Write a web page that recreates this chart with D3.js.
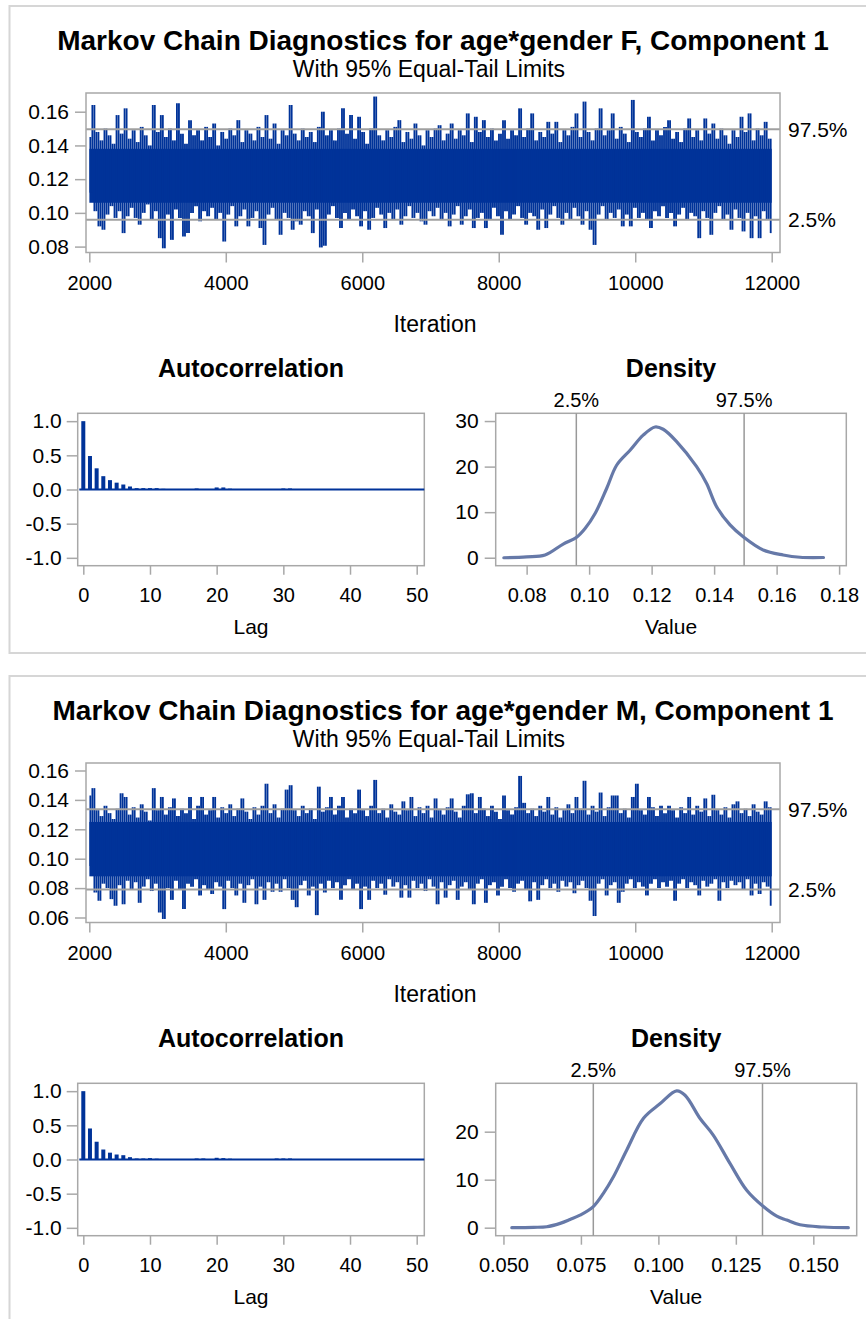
<!DOCTYPE html>
<html>
<head>
<meta charset="utf-8">
<script src="https://cdn.jsdelivr.net/npm/d3@7"></script>
<style>
  body { margin: 0; background: #fff; }
  svg text { font-family: "Liberation Sans", Arial, sans-serif; fill: #000; }
</style>
</head>
<body>
<svg id="chart" width="866" height="1319"></svg>
<script>
// ---- data ----
var titles = ["Markov Chain Diagnostics for age*gender F, Component 1",
              "Markov Chain Diagnostics for age*gender M, Component 1"];
var subtitle = "With 95% Equal-Tail Limits";

var iterTicks = [2000, 4000, 6000, 8000, 10000, 12000];
var lagTicks = [0, 10, 20, 30, 40, 50];
var acfTicks = [1.0, 0.5, 0.0, -0.5, -1.0];
var traceFTicks = [0.08, 0.10, 0.12, 0.14, 0.16];
var traceMTicks = [0.06, 0.08, 0.10, 0.12, 0.14, 0.16];
var densFTicksX = [0.08, 0.10, 0.12, 0.14, 0.16, 0.18];
var densMTicksX = [0.050, 0.075, 0.100, 0.125, 0.150];
var densFTicksY = [0, 10, 20, 30];
var densMTicksY = [0, 10, 20];

// 2.5% and 97.5% limits
var limitsF = [0.0959, 0.1496];
var limitsM = [0.0790, 0.1336];
var limitLabels = ["2.5%", "97.5%"];

// solid middle of each trace (where every pixel column is filled)
var coreF = [0.106, 0.138];
var coreM = [0.088, 0.125];

// trace: upper and lower swings, read left to right (iterations 2001..12000)
var traceFHi = [0.145,0.164,0.148,0.143,0.150,0.146,0.141,0.158,0.147,0.162,
  0.144,0.149,0.142,0.151,0.146,0.140,0.164,0.148,0.158,0.145,
  0.150,0.143,0.165,0.147,0.141,0.155,0.146,0.149,0.143,0.151,
  0.145,0.153,0.140,0.148,0.144,0.150,0.146,0.155,0.142,0.149,
  0.147,0.143,0.151,0.145,0.158,0.144,0.153,0.141,0.149,0.146,
  0.164,0.147,0.143,0.150,0.145,0.148,0.142,0.151,0.160,0.146,
  0.149,0.143,0.150,0.162,0.147,0.158,0.144,0.157,0.148,0.141,
  0.150,0.169,0.146,0.143,0.149,0.145,0.151,0.155,0.142,0.148,
  0.144,0.153,0.146,0.140,0.149,0.145,0.150,0.152,0.143,0.147,
  0.153,0.144,0.149,0.146,0.159,0.142,0.157,0.148,0.155,0.145,
  0.150,0.143,0.147,0.155,0.144,0.149,0.146,0.162,0.145,0.150,
  0.159,0.143,0.148,0.145,0.154,0.147,0.154,0.142,0.149,0.146,
  0.151,0.159,0.145,0.166,0.148,0.143,0.150,0.162,0.146,0.149,
  0.159,0.144,0.151,0.147,0.142,0.167,0.148,0.145,0.150,0.157,
  0.143,0.149,0.146,0.151,0.155,0.144,0.148,0.142,0.150,0.156,
  0.145,0.149,0.143,0.156,0.147,0.153,0.144,0.150,0.146,0.141,
  0.149,0.145,0.157,0.148,0.159,0.143,0.150,0.146,0.154,0.144];
var traceFLo = [0.112,0.101,0.092,0.090,0.099,0.104,0.097,0.101,0.088,0.098,
  0.103,0.097,0.093,0.100,0.105,0.096,0.101,0.085,0.079,0.099,
  0.084,0.102,0.097,0.086,0.088,0.100,0.104,0.095,0.101,0.098,
  0.103,0.096,0.100,0.083,0.099,0.104,0.092,0.098,0.102,0.092,
  0.097,0.101,0.091,0.081,0.099,0.103,0.096,0.087,0.100,0.097,
  0.090,0.095,0.093,0.101,0.098,0.088,0.102,0.0795,0.0805,0.099,
  0.104,0.097,0.091,0.100,0.096,0.102,0.098,0.092,0.101,0.090,
  0.097,0.103,0.099,0.091,0.100,0.096,0.102,0.093,0.098,0.104,
  0.097,0.100,0.095,0.093,0.101,0.098,0.103,0.096,0.100,0.092,
  0.099,0.104,0.093,0.098,0.102,0.091,0.097,0.100,0.091,0.096,
  0.103,0.098,0.087,0.101,0.096,0.099,0.104,0.097,0.093,0.100,
  0.098,0.090,0.102,0.091,0.099,0.104,0.097,0.093,0.100,0.096,
  0.103,0.098,0.093,0.101,0.090,0.081,0.099,0.104,0.096,0.100,
  0.097,0.102,0.092,0.099,0.092,0.103,0.097,0.100,0.096,0.091,
  0.101,0.098,0.104,0.097,0.100,0.092,0.099,0.103,0.096,0.100,
  0.098,0.085,0.101,0.097,0.087,0.100,0.104,0.096,0.099,0.090,
  0.102,0.097,0.089,0.100,0.085,0.098,0.085,0.101,0.096,0.088];

var traceMHi = [0.143,0.148,0.133,0.129,0.136,0.131,0.127,0.134,0.1445,0.142,
  0.130,0.135,0.128,0.137,0.132,0.126,0.148,0.133,0.142,0.130,
  0.135,0.141,0.129,0.134,0.131,0.142,0.127,0.136,0.142,0.130,
  0.133,0.142,0.128,0.135,0.131,0.137,0.129,0.134,0.141,0.132,
  0.127,0.135,0.130,0.136,0.151,0.131,0.137,0.128,0.134,0.147,
  0.150,0.133,0.129,0.136,0.131,0.134,0.127,0.149,0.132,0.135,
  0.142,0.130,0.136,0.142,0.128,0.134,0.131,0.147,0.133,0.129,
  0.136,0.1536,0.131,0.134,0.128,0.137,0.132,0.130,0.139,0.133,
  0.142,0.129,0.135,0.131,0.136,0.128,0.141,0.133,0.130,0.135,
  0.141,0.132,0.128,0.136,0.1438,0.1445,0.131,0.142,0.134,0.129,
  0.136,0.132,0.127,0.143,0.133,0.130,0.135,0.1563,0.138,0.131,
  0.134,0.129,0.136,0.132,0.142,0.130,0.135,0.128,0.133,0.137,
  0.131,0.142,0.134,0.153,0.130,0.136,0.132,0.145,0.129,0.135,
  0.143,0.143,0.131,0.134,0.128,0.142,0.151,0.133,0.130,0.142,
  0.135,0.129,0.136,0.131,0.136,0.133,0.128,0.135,0.131,0.142,
  0.130,0.136,0.132,0.141,0.129,0.1435,0.133,0.130,0.135,0.128,
  0.137,0.139,0.131,0.134,0.129,0.137,0.132,0.130,0.139,0.135];
var traceMLo = [0.095,0.077,0.0714,0.083,0.080,0.0725,0.068,0.082,0.069,0.085,
  0.079,0.084,0.070,0.081,0.086,0.078,0.083,0.0634,0.059,0.080,
  0.072,0.085,0.079,0.0657,0.083,0.081,0.086,0.075,0.082,0.079,
  0.076,0.084,0.081,0.0657,0.085,0.080,0.075,0.083,0.070,0.082,
  0.086,0.069,0.081,0.072,0.084,0.0775,0.083,0.0775,0.086,0.080,
  0.072,0.067,0.082,0.085,0.075,0.081,0.0616,0.083,0.077,0.085,
  0.080,0.084,0.072,0.082,0.086,0.079,0.083,0.0657,0.081,0.072,
  0.085,0.080,0.083,0.0755,0.086,0.081,0.084,0.0735,0.082,0.0735,
  0.085,0.080,0.083,0.078,0.086,0.081,0.069,0.084,0.0735,0.082,
  0.085,0.072,0.081,0.084,0.079,0.069,0.083,0.086,0.070,0.082,
  0.084,0.075,0.081,0.086,0.080,0.0775,0.083,0.085,0.079,0.071,
  0.084,0.072,0.082,0.086,0.080,0.083,0.0775,0.085,0.081,0.084,
  0.0765,0.082,0.085,0.080,0.0714,0.061,0.083,0.086,0.075,0.082,
  0.084,0.070,0.0775,0.083,0.086,0.080,0.084,0.081,0.075,0.083,
  0.086,0.080,0.084,0.081,0.085,0.0714,0.083,0.086,0.080,0.084,
  0.082,0.075,0.085,0.081,0.083,0.086,0.0714,0.084,0.080,0.085,
  0.082,0.084,0.079,0.086,0.075,0.083,0.076,0.084,0.081,0.068];

// autocorrelation, lags 0..50
var acfF = [1.0,0.49,0.31,0.195,0.137,0.10,0.073,0.044,0.02,0.02,
  0.02,0.02,0.01,0.005,0.003,0.002,0.004,0.015,0.005,0.003,
  0.03,0.03,0.012,0.004,0.002,0.001,0.002,0.003,0.002,0.004,
  0.015,0.015,0.003,0.002,0.001,0,0.001,0.002,0.001,0,
  0.001,0,0.001,0.002,0.001,0,0.001,0,0.001,0,0.001];
var acfM = [1.0,0.454,0.26,0.146,0.10,0.073,0.063,0.034,0.015,0.015,
  0.02,0.012,0.004,0.002,0.002,0.003,0.004,0.015,0.015,0.004,
  0.025,0.02,0.012,0.003,0.002,0.001,0.002,0.003,0.004,0.015,
  0.015,0.015,0.003,0.002,0.001,0,0.001,0.002,0.001,0,
  0.001,0,0.001,0.002,0.001,0,0.001,0,0.001,0,0.001];

// kernel density curves
var densFx = [0.0727,0.0800,0.0859,0.0917,0.0960,0.0987,0.1019,0.1056,0.1088,0.1131,
  0.1173,0.1211,0.1237,0.1280,0.1344,0.1376,0.1408,0.1451,0.1493,0.1557,0.1621,0.1675,0.1750];
var densFy = [0.0,0.2,0.6,3.0,4.5,6.4,9.7,15.2,20.3,23.6,
  26.9,28.7,28.2,25.5,20.0,16.3,11.2,7.2,4.6,1.7,0.6,0.1,0.05];
var densMx = [0.0527,0.0597,0.0640,0.0683,0.0715,0.0747,0.0790,0.0823,0.0855,0.0898,
  0.0952,0.1005,0.1059,0.1086,0.1134,0.1177,0.1231,0.1285,0.1339,0.1382,0.1414,0.1457,0.1532,0.1613];
var densMy = [0.0,0.07,0.2,0.9,1.7,2.6,4.4,7.2,10.6,16.2,
  22.8,25.8,28.5,27.6,22.8,19.3,13.4,7.8,4.4,2.4,1.6,0.6,0.14,0.0];

// ---- drawing ----
var BLUE = "#003399", FRAME = "#a8a8a8", REF = "#a0a0a0", CURVE = "#6679a8";
var svg = d3.select("#chart");

function styleAxis(ax, size) {
  ax.select(".domain").remove();
  ax.selectAll(".tick line").attr("stroke", FRAME).attr("stroke-width", 1.5);
  ax.selectAll(".tick text").style("font-size", size + "px").attr("fill", "#000");
}

function frame(g, x0, y0, x1, y1) {
  g.append("rect").attr("x", x0).attr("y", y0).attr("width", x1 - x0).attr("height", y1 - y0)
    .attr("fill", "none").attr("stroke", FRAME).attr("stroke-width", 1.5);
}

function drawPanel(oy, idx, d) {
  var g = svg.append("g").attr("transform", `translate(0,${oy})`);

  g.append("rect").attr("x", 9.5).attr("y", 6).attr("width", 900).attr("height", idx == 0 ? 647 : 700)
    .attr("fill", "none").attr("stroke", "#d6d6d6").attr("stroke-width", 2);

  g.append("text").attr("x", 443).attr("y", 50).attr("text-anchor", "middle")
    .style("font-size", "28px").style("font-weight", "bold").text(titles[idx]);
  g.append("text").attr("x", 429).attr("y", 76.5).attr("text-anchor", "middle")
    .style("font-size", "23px").text(subtitle);

  // trace plot
  var tx = d3.scaleLinear().domain([1951.6, 12121.6]).range([86, 780]);
  var ty = d3.scaleLinear().domain(d.traceDomain).range([252.5, 93]);
  var series = [];
  d.hi.forEach(function(h, i) { series.push(h); series.push(d.lo[i]); });
  var step = 9999 / (series.length - 1);
  var pts = series.map(function(v, i) { return { it: 2001 + i * step, v: v }; });
  var xFirst = tx(2001), xLast = tx(12000);

  // solid middle of the chain
  g.append("rect")
    .attr("x", xFirst).attr("width", xLast - xFirst)
    .attr("y", ty(d.core[1])).attr("height", ty(d.core[0]) - ty(d.core[1]))
    .attr("fill", BLUE);

  // each move of the chain as a near-vertical stroke
  g.selectAll(".mv").data(d3.pairs(pts)).enter().append("line")
    .attr("x1", function(p) { return (tx(p[0].it) + tx(p[1].it)) / 2; })
    .attr("x2", function(p) { return (tx(p[0].it) + tx(p[1].it)) / 2; })
    .attr("y1", function(p) { return ty(p[0].v); })
    .attr("y2", function(p) { return ty(p[1].v); })
    .attr("stroke", BLUE).attr("stroke-width", 1.85);

  g.selectAll(".lim").data(d.limits).enter().append("line")
    .attr("x1", 86).attr("x2", 780).attr("y1", function(v) { return ty(v); }).attr("y2", function(v) { return ty(v); })
    .attr("stroke", REF).attr("stroke-width", 2);
  g.selectAll(".limlab").data(d.limits).enter().append("text")
    .attr("x", 788).attr("y", function(v) { return ty(v) + 7.5; })
    .style("font-size", "21px").text(function(v, i) { return limitLabels[i]; });

  frame(g, 86, 93, 780, 252.5);
  var ay = g.append("g").attr("transform", "translate(86,0)")
    .call(d3.axisLeft(ty).tickValues(d.traceTicks).tickFormat(d3.format(".2f")).tickSize(11).tickPadding(6));
  styleAxis(ay, 21);
  var ax = g.append("g").attr("transform", "translate(0,252.5)")
    .call(d3.axisBottom(tx).tickValues(iterTicks).tickFormat(d3.format("d")).tickSize(10).tickPadding(13));
  styleAxis(ax, 20);
  g.append("text").attr("x", 435).attr("y", 332).attr("text-anchor", "middle")
    .style("font-size", "23px").text("Iteration");

  // autocorrelation
  var lx = d3.scaleLinear().domain([-0.84, 51.14]).range([77.7, 424.3]);
  var ly = d3.scaleLinear().domain([-1.115, 1.115]).range([565.7, 413.3]);
  g.append("text").attr("x", 251).attr("y", 377).attr("text-anchor", "middle")
    .style("font-size", "25px").style("font-weight", "bold").text("Autocorrelation");
  frame(g, 77.7, 413.3, 424.3, 565.7);
  g.append("line").attr("x1", lx(0) - 4).attr("x2", 424.3).attr("y1", ly(0)).attr("y2", ly(0))
    .attr("stroke", BLUE).attr("stroke-width", 2);
  g.selectAll(".acf").data(d.acf).enter().append("rect")
    .attr("x", function(v, i) { return lx(i) - 2; }).attr("width", 4)
    .attr("y", function(v) { return ly(Math.max(v, 0)); })
    .attr("height", function(v) { return Math.abs(ly(v) - ly(0)); })
    .attr("fill", BLUE);
  var ly_ax = g.append("g").attr("transform", "translate(77.7,0)")
    .call(d3.axisLeft(ly).tickValues(acfTicks).tickSize(11).tickPadding(5));
  styleAxis(ly_ax, 21);
  ly_ax.selectAll(".tick text").text(function(v) { return d3.format(".1f")(v).replace("−", "-"); });
  var lx_ax = g.append("g").attr("transform", "translate(0,565.7)")
    .call(d3.axisBottom(lx).tickValues(lagTicks).tickSize(9).tickPadding(13));
  styleAxis(lx_ax, 20);
  g.append("text").attr("x", 251).attr("y", 634).attr("text-anchor", "middle")
    .style("font-size", "21px").text("Lag");

  // density
  var dx = d3.scaleLinear().domain(d.densDomain).range([495.7, d.densRight]);
  var dy = d3.scaleLinear().domain(d.densYDomain).range([565.7, 413.3]);
  var dmid = (495.7 + d.densRight) / 2;
  g.append("text").attr("x", dmid).attr("y", 377).attr("text-anchor", "middle")
    .style("font-size", "25px").style("font-weight", "bold").text("Density");
  frame(g, 495.7, 413.3, d.densRight, 565.7);
  g.selectAll(".dlim").data(d.limits).enter().append("line")
    .attr("x1", function(v) { return dx(v); }).attr("x2", function(v) { return dx(v); })
    .attr("y1", 413.3).attr("y2", 565.7).attr("stroke", "#999").attr("stroke-width", 1.5);
  g.selectAll(".dlab").data(d.limits).enter().append("text")
    .attr("x", function(v) { return dx(v); }).attr("y", 407).attr("text-anchor", "middle")
    .style("font-size", "20px").text(function(v, i) { return limitLabels[i]; });
  g.append("path").datum(d.densX.map(function(v, i) { return [v, d.densY[i]]; }))
    .attr("fill", "none").attr("stroke", CURVE).attr("stroke-width", 3.2)
    .attr("stroke-linecap", "round")
    .attr("d", d3.line().curve(d3.curveCatmullRom).x(function(p) { return dx(p[0]); }).y(function(p) { return dy(p[1]); }));
  var dy_ax = g.append("g").attr("transform", "translate(495.7,0)")
    .call(d3.axisLeft(dy).tickValues(d.densTicksY).tickFormat(d3.format("d")).tickSize(11).tickPadding(6));
  styleAxis(dy_ax, 21);
  var dx_ax = g.append("g").attr("transform", "translate(0,565.7)")
    .call(d3.axisBottom(dx).tickValues(d.densTicksX).tickFormat(d3.format(d.densFmt)).tickSize(9).tickPadding(13));
  styleAxis(dx_ax, 20);
  g.append("text").attr("x", dmid).attr("y", 634).attr("text-anchor", "middle")
    .style("font-size", "21px").text("Value");
}

drawPanel(0, 0, {
  hi: traceFHi, lo: traceFLo, core: coreF, traceDomain: [0.0765, 0.1711], traceTicks: traceFTicks,
  limits: limitsF, acf: acfF,
  densX: densFx, densY: densFy, densDomain: [0.0701, 0.1823], densRight: 846.3,
  densYDomain: [-1.75, 31.7], densTicksX: densFTicksX, densTicksY: densFTicksY, densFmt: ".2f"
});
drawPanel(670, 1, {
  hi: traceMHi, lo: traceMLo, core: coreM, traceDomain: [0.0566, 0.1651], traceTicks: traceMTicks,
  limits: limitsM, acf: acfM,
  densX: densMx, densY: densMy, densDomain: [0.0475, 0.1640], densRight: 856.7,
  densYDomain: [-1.67, 30.08], densTicksX: densMTicksX, densTicksY: densMTicksY, densFmt: ".3f"
});
</script>
</body>
</html>
